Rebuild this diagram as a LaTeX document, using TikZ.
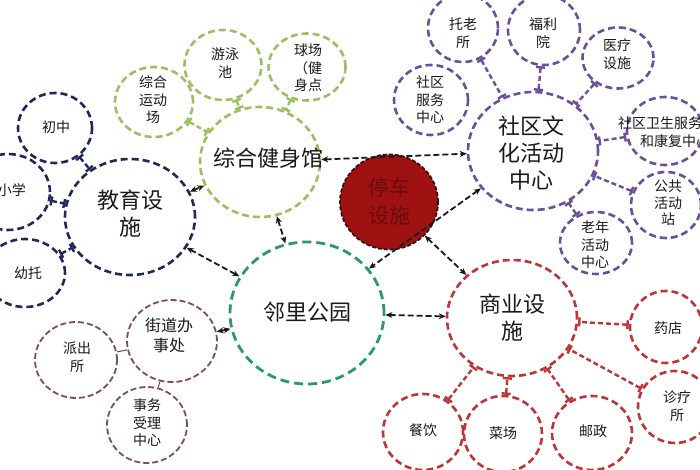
\documentclass[tikz,border=0pt]{standalone}
\usepackage{fontspec}
\setmainfont{Noto Sans CJK SC}
\usetikzlibrary{shapes.geometric,arrows.meta}

\definecolor{eduBlue}{HTML}{1F2858}
\definecolor{gymGreen}{HTML}{9CBF62}
\definecolor{parkGreen}{HTML}{2A9872}
\definecolor{cultPurple}{HTML}{6A5099}
\definecolor{shopRed}{HTML}{BE3538}
\definecolor{officeMauve}{HTML}{7A4B6B}
\definecolor{parkingFill}{HTML}{A01212}
\definecolor{parkingLine}{HTML}{3B0D0D}
\definecolor{parkingText}{HTML}{6A0C0C}

\begin{document}
\begin{tikzpicture}[x=1pt,y=-1pt,
  bubble/.style={ellipse,draw=#1,line width=2.6pt,dash pattern=on 7pt off 4pt,inner sep=0pt},
  dims/.style 2 args={minimum width=#1pt,minimum height=#2pt},
  big/.style={align=center,font=\fontsize{22}{27}\selectfont,text=black!90},
  small/.style={align=center,font=\fontsize{14}{17.5}\selectfont,text=black!90},
  tie/.style={draw=#1,line width=2.4pt,dash pattern=on 5pt off 3pt,{Bar[width=9pt,line width=2.4pt]}-{Bar[width=9pt,line width=2.4pt]}},
  link/.style={draw=black!90,line width=1.8pt,dash pattern=on 6pt off 3pt,
    {Stealth[length=7pt,width=6pt]}-{Stealth[length=7pt,width=6pt]}}]
  \useasboundingbox[fill=white] (0,0) rectangle (700,470);

  % education
  \node[bubble=eduBlue,dims={130}{116}] (edu) at (130,217) {};
  \node[bubble=eduBlue,dims={74}{70}] (chuzhong) at (55,128) {};
  \node[bubble=eduBlue,dims={84}{76}] (xiaoxue) at (8,192) {};
  \node[bubble=eduBlue,dims={80}{68}] (youtuo) at (25,273) {};
  \node[big] (edu-t) at (130,214) {教育设\\施};
  \node[small] (chuzhong-t) at (56,127) {初中};
  \node[small] (xiaoxue-t) at (12,190) {小学};
  \node[small] (youtuo-t) at (28,273) {幼托};

  % sports
  \node[bubble=gymGreen,dims={120}{110}] (gym) at (260,162) {};
  \node[bubble=gymGreen,dims={78}{70}] (yundong) at (154,102) {};
  \node[bubble=gymGreen,dims={77}{70}] (youyong) at (223,65) {};
  \node[bubble=gymGreen,dims={77}{67}] (qiuchang) at (307,67) {};
  \node[big] (gym-t) at (268,158) {综合健身馆};
  \node[small] (yundong-t) at (153,100) {综合\\运动\\场};
  \node[small] (youyong-t) at (225,63) {游泳\\池};
  \node[small] (qiuchang-t) at (308,68) {球场\\（健\\身点};

  % parking
  \node[ellipse,fill=parkingFill,draw=parkingLine,line width=1.8pt,dash pattern=on 4pt off 2pt,
    dims={98}{95}] (parking) at (389,202) {};
  \node[big,text=parkingText,font=\fontsize{21}{28}\selectfont] (parking-t) at (389,201) {停车\\设施};

  % park
  \node[bubble=parkGreen,line width=2.8pt,dash pattern=on 9pt off 5pt,dims={154}{142}] (park) at (307,313) {};
  \node[big] (park-t) at (307,312) {邻里公园};

  % culture
  \node[bubble=cultPurple,dims={130}{118}] (culture) at (533,151) {};
  \node[bubble=cultPurple,dims={70}{68}] (tuolao) at (463,28) {};
  \node[bubble=cultPurple,dims={72}{70}] (fuli) at (544,30) {};
  \node[bubble=cultPurple,dims={71}{61}] (yiliao) at (618,58) {};
  \node[bubble=cultPurple,dims={74}{70}] (shequ) at (431,100) {};
  \node[bubble=cultPurple,dims={76}{68}] (weisheng) at (665,131) {};
  \node[bubble=cultPurple,dims={70}{66}] (gonggong) at (666,205) {};
  \node[bubble=cultPurple,dims={72}{62}] (laonian) at (596,243) {};
  \node[big] (culture-t) at (531,153) {社区文\\化活动\\中心};
  \node[small] (tuolao-t) at (463,33) {托老\\所};
  \node[small] (fuli-t) at (543,33) {福利\\院};
  \node[small] (yiliao-t) at (617,54) {医疗\\设施};
  \node[small] (shequ-t) at (430,100) {社区\\服务\\中心};
  \node[small,align=left] (weisheng-t) at (664,132) {社区卫生服务\\\hspace*{22pt}和康复中心};
  \node[small,font=\fontsize{14}{16.5}\selectfont] (gonggong-t) at (668,203) {公共\\活动\\站};
  \node[small] (laonian-t) at (595,245) {老年\\活动\\中心};

  % commerce
  \node[bubble=shopRed,dims={130}{116}] (shop) at (512,318) {};
  \node[bubble=shopRed,dims={72}{72}] (yaodian) at (666,327) {};
  \node[bubble=shopRed,dims={74}{72}] (zhenliao) at (675,407) {};
  \node[bubble=shopRed,dims={80}{74}] (youzheng) at (592,433) {};
  \node[bubble=shopRed,dims={78}{76}] (caichang) at (503,434) {};
  \node[bubble=shopRed,dims={80}{76}] (canyin) at (423,432) {};
  \node[big] (shop-t) at (512,318) {商业设\\施};
  \node[small] (yaodian-t) at (668,328) {药店};
  \node[small] (zhenliao-t) at (677,406) {诊疗\\所};
  \node[small] (youzheng-t) at (593,431) {邮政};
  \node[small] (caichang-t) at (503,433) {菜场};
  \node[small] (canyin-t) at (423,430) {餐饮};

  % street office
  \node[bubble=officeMauve,line width=1.8pt,dash pattern=on 6pt off 3pt,dims={90}{82}] (office) at (172,341) {};
  \node[bubble=officeMauve,line width=1.8pt,dash pattern=on 6pt off 3pt,dims={82}{76}] (paichu) at (76,360) {};
  \node[bubble=officeMauve,line width=1.8pt,dash pattern=on 6pt off 3pt,dims={80}{76}] (shiwu) at (147,425) {};
  \node[small,font=\fontsize{16}{20}\selectfont] (office-t) at (169,335) {街道办\\事处};
  \node[small] (paichu-t) at (77,357) {派出\\所};
  \node[small] (shiwu-t) at (147,423) {事务\\受理\\中心};

  % ties to the group centres
  \foreach \a in {chuzhong,xiaoxue,youtuo} {
    \draw[tie=eduBlue] (\a) -- (edu);
  }
  \foreach \a in {yundong,youyong,qiuchang} {
    \draw[tie=gymGreen] (\a) -- (gym);
  }
  \foreach \a in {tuolao,fuli,yiliao,weisheng,gonggong,laonian} {
    \draw[tie=cultPurple] (\a) -- (culture);
  }
  \foreach \a in {yaodian,zhenliao,youzheng,caichang,canyin} {
    \draw[tie=shopRed] (\a) -- (shop);
  }
  \foreach \a in {paichu,shiwu} {
    \draw[draw=officeMauve,line width=1pt] (\a) -- (office);
  }

  % links between the groups
  \foreach \a/\b in {gym/culture,edu/gym,gym/park,edu/park,culture/park,parking/shop,park/shop,office/park} {
    \draw[link] (\a) -- (\b);
  }
\end{tikzpicture}
\end{document}
